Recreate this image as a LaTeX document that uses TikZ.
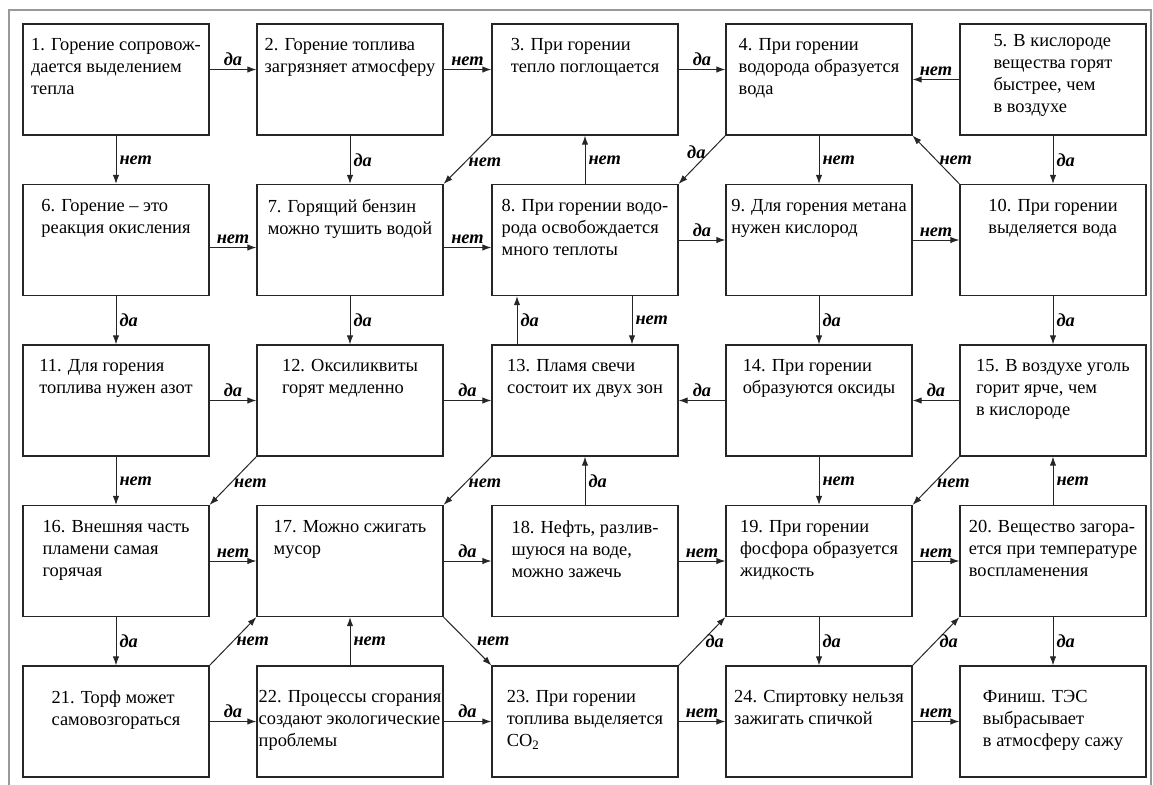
\documentclass[tikz,border=0pt]{standalone}
\usepackage{fontspec}
\setmainfont{Liberation Serif}
\usetikzlibrary{arrows.meta}
\tikzstyle{qbox}=[draw=black!85, line width=.6pt, minimum width=93pt, minimum height=55.5pt, inner sep=0pt]
\tikzstyle{qtext}=[anchor=north, align=left, inner sep=0pt, yshift=-7.5pt, font=\fontsize{9.2}{11}\selectfont]
\tikzstyle{ans}=[font=\fontsize{9.2}{11}\selectfont\bfseries\itshape, inner sep=1.5pt]
\tikzstyle{go}=[-{Latex[length=4.5pt,width=3.2pt]}, line width=.5pt, draw=black!85]

\begin{document}
\begin{tikzpicture}[x=.5pt, y=-.5pt]
	\clip (0,0) rectangle (1153,784);
	\draw[black!40, line width=1pt] (9,10) rectangle (1151,800);
	% row 1
	\node[qbox] (q1) at (116,79.5) {}; \node[qtext] (t1) at (q1.north) {1. Горение сопровож-\\дается выделением\\тепла};
	\node[qbox] (q2) at (350,79.5) {}; \node[qtext] (t2) at (q2.north) {2. Горение топлива\\загрязняет атмосферу};
	\node[qbox] (q3) at (585,79.5) {}; \node[qtext] (t3) at (q3.north) {3. При горении\\тепло поглощается};
	\node[qbox] (q4) at (819,79.5) {}; \node[qtext] (t4) at (q4.north) {4. При горении\\водорода образуется\\вода};
	\node[qbox] (q5) at (1053,79.5) {}; \node[qtext, yshift=2pt] (t5) at (q5.north) {5. В кислороде\\вещества горят\\быстрее, чем\\в воздухе};
	% row 2
	\node[qbox] (q6) at (116,240) {}; \node[qtext] (t6) at (q6.north) {6. Горение – это\\реакция окисления};
	\node[qbox] (q7) at (350,240) {}; \node[qtext] (t7) at (q7.north) {7. Горящий бензин\\можно тушить водой};
	\node[qbox] (q8) at (585,240) {}; \node[qtext] (t8) at (q8.north) {8. При горении водо-\\рода освобождается\\много теплоты};
	\node[qbox] (q9) at (819,240) {}; \node[qtext] (t9) at (q9.north) {9. Для горения метана\\нужен кислород};
	\node[qbox] (q10) at (1053,240) {}; \node[qtext] (t10) at (q10.north) {10. При горении\\выделяется вода};
	% row 3
	\node[qbox] (q11) at (116,400.5) {}; \node[qtext] (t11) at (q11.north) {11. Для горения\\топлива нужен азот};
	\node[qbox] (q12) at (350,400.5) {}; \node[qtext] (t12) at (q12.north) {12. Оксиликвиты\\горят медленно};
	\node[qbox] (q13) at (585,400.5) {}; \node[qtext] (t13) at (q13.north) {13. Пламя свечи\\состоит их двух зон};
	\node[qbox] (q14) at (819,400.5) {}; \node[qtext] (t14) at (q14.north) {14. При горении\\образуются оксиды};
	\node[qbox] (q15) at (1053,400.5) {}; \node[qtext] (t15) at (q15.north) {15. В воздухе уголь\\горит ярче, чем\\в кислороде};
	% row 4
	\node[qbox] (q16) at (116,561) {}; \node[qtext] (t16) at (q16.north) {16. Внешняя часть\\пламени самая\\горячая};
	\node[qbox] (q17) at (350,561) {}; \node[qtext] (t17) at (q17.north) {17. Можно сжигать\\мусор};
	\node[qbox] (q18) at (585,561) {}; \node[qtext] (t18) at (q18.north) {18. Нефть, разлив-\\шуюся на воде,\\можно зажечь};
	\node[qbox] (q19) at (819,561) {}; \node[qtext] (t19) at (q19.north) {19. При горении\\фосфора образуется\\жидкость};
	\node[qbox] (q20) at (1053,561) {}; \node[qtext] (t20) at (q20.north) {20. Вещество загора-\\ется при температуре\\воспламенения};
	% row 5
	\node[qbox] (q21) at (116,721.5) {}; \node[qtext, yshift=-5pt] (t21) at (q21.north) {21. Торф может\\самовозгораться};
	\node[qbox] (q22) at (350,721.5) {}; \node[qtext, yshift=-5pt] (t22) at (q22.north) {22. Процессы сгорания\\создают экологические\\проблемы};
	\node[qbox] (q23) at (585,721.5) {}; \node[qtext, yshift=-5pt] (t23) at (q23.north) {23. При горении\\топлива выделяется\\CO\textsubscript{2}};
	\node[qbox] (q24) at (819,721.5) {}; \node[qtext, yshift=-5pt] (t24) at (q24.north) {24. Спиртовку нельзя\\зажигать спичкой};
	\node[qbox] (fin) at (1053,721.5) {}; \node[qtext, yshift=-5pt] (tfin) at (fin.north) {Финиш. ТЭС\\выбрасывает\\в атмосферу сажу};

	% row 1 links
	\draw[go] ([yshift=5pt]q1.east) -- node[ans,above]{да} ([yshift=5pt]q2.west);
	\draw[go] ([yshift=5pt]q2.east) -- node[ans,above]{нет} ([yshift=5pt]q3.west);
	\draw[go] ([yshift=5pt]q3.east) -- node[ans,above]{да} ([yshift=5pt]q4.west);
	\draw[go] (q5.west) -- node[ans,above]{нет} (q4.east);
	% row 1 -> row 2
	\draw[go] (q1.south) -- node[ans,right]{нет} (q6.north);
	\draw[go] (q2.south) -- node[ans,right]{да} (q7.north);
	\draw[go] (q3.south west) -- node[ans,right,pos=.55]{нет} (q7.north east);
	\draw[go] (q8.north) -- node[ans,right]{нет} (q3.south);
	\draw[go] (q4.south west) -- node[ans,left,pos=.35]{да} (q8.north east);
	\draw[go] (q4.south) -- node[ans,right]{нет} (q9.north);
	\draw[go] (q10.north west) -- node[ans,right]{нет} (q4.south east);
	\draw[go] (q5.south) -- node[ans,right]{да} (q10.north);
	% row 2 links
	\draw[go] ([yshift=-3.75pt]q6.east) -- node[ans,above]{нет} ([yshift=-3.75pt]q7.west);
	\draw[go] ([yshift=-3.75pt]q7.east) -- node[ans,above]{нет} ([yshift=-3.75pt]q8.west);
	\draw[go] (q8.east) -- node[ans,above]{да} (q9.west);
	\draw[go] (q9.east) -- node[ans,above]{нет} (q10.west);
	% row 2 -> row 3
	\draw[go] (q6.south) -- node[ans,right]{да} (q11.north);
	\draw[go] (q7.south) -- node[ans,right]{да} (q12.north);
	\draw[go] ([xshift=-34pt]q13.north) -- node[ans,right]{да} ([xshift=-34pt]q8.south);
	\draw[go] ([xshift=23.5pt]q8.south) -- node[ans,right]{нет} ([xshift=23.5pt]q13.north);
	\draw[go] (q9.south) -- node[ans,right]{да} (q14.north);
	\draw[go] (q10.south) -- node[ans,right]{да} (q15.north);
	% row 3 links
	\draw[go] (q11.east) -- node[ans,above]{да} (q12.west);
	\draw[go] (q12.east) -- node[ans,above]{да} (q13.west);
	\draw[go] (q14.west) -- node[ans,above]{да} (q13.east);
	\draw[go] (q15.west) -- node[ans,above]{да} (q14.east);
	% row 3 -> row 4
	\draw[go] (q11.south) -- node[ans,right]{нет} (q16.north);
	\draw[go] (q12.south west) -- node[ans,right,pos=.55]{нет} (q16.north east);
	\draw[go] (q13.south west) -- node[ans,right,pos=.55]{нет} (q17.north east);
	\draw[go] (q18.north) -- node[ans,right]{да} (q13.south);
	\draw[go] (q14.south) -- node[ans,right]{нет} (q19.north);
	\draw[go] (q15.south west) -- node[ans,right,pos=.55]{нет} (q19.north east);
	\draw[go] (q20.north) -- node[ans,right]{нет} (q15.south);
	% row 4 links
	\draw[go] (q16.east) -- node[ans,above]{нет} (q17.west);
	\draw[go] (q17.east) -- node[ans,above]{да} (q18.west);
	\draw[go] (q18.east) -- node[ans,above]{нет} (q19.west);
	\draw[go] (q19.east) -- node[ans,above]{нет} (q20.west);
	% row 4 -> row 5
	\draw[go] (q16.south) -- node[ans,right]{да} (q21.north);
	\draw[go] (q21.north east) -- node[ans,right]{нет} (q17.south west);
	\draw[go] (q22.north) -- node[ans,right]{нет} (q17.south);
	\draw[go] (q17.south east) -- node[ans,right,xshift=3pt]{нет} (q23.north west);
	\draw[go] (q23.north east) -- node[ans,right]{да} (q19.south west);
	\draw[go] (q19.south) -- node[ans,right]{да} (q24.north);
	\draw[go] (q24.north east) -- node[ans,right]{да} (q20.south west);
	\draw[go] (q20.south) -- node[ans,right]{да} (fin.north);
	% row 5 links
	\draw[go] (q21.east) -- node[ans,above]{да} (q22.west);
	\draw[go] (q22.east) -- node[ans,above]{да} (q23.west);
	\draw[go] (q23.east) -- node[ans,above]{нет} (q24.west);
	\draw[go] (q24.east) -- node[ans,above]{нет} (fin.west);
\end{tikzpicture}
\end{document}
